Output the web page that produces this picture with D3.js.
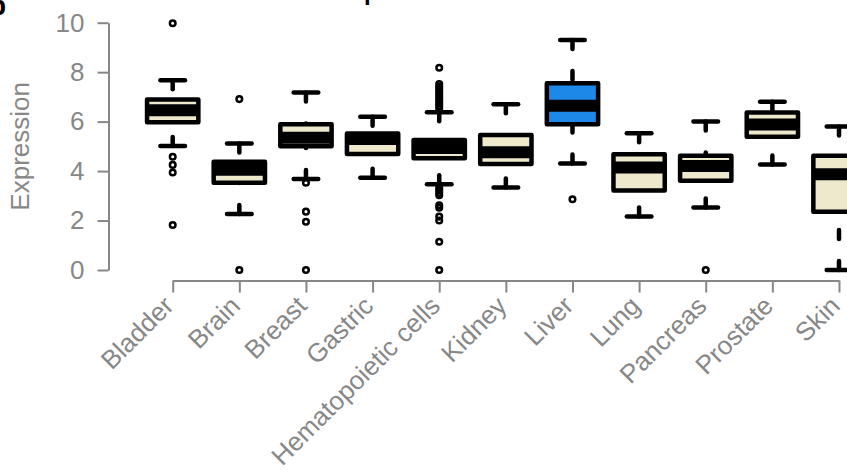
<!DOCTYPE html>
<html>
<head>
<meta charset="utf-8">
<script src="https://cdn.jsdelivr.net/npm/d3@7"></script>
<style>
  html, body { margin: 0; padding: 0; background: #fff; overflow: hidden; }
  svg { display: block; }
  text { font-family: "Liberation Sans", Arial, sans-serif; }
</style>
</head>
<body>
<svg id="chart" width="847" height="475"></svg>
<script>
// ---- data ----
const categories = ["Bladder", "Brain", "Breast", "Gastric", "Hematopoietic cells", "Kidney",
                    "Liver", "Lung", "Pancreas", "Prostate", "Skin"];
const whiskerLow  = [5.01, 2.26, 3.68, 3.73, 3.47, 3.34, 4.31, 2.16, 2.53, 4.27, 0.00];
const q1          = [5.97, 3.53, 5.00, 4.69, 4.52, 4.29, 5.89, 3.21, 3.61, 5.39, 2.36];
const medians     = [6.46, 4.05, 5.35, 5.30, 4.93, 4.76, 6.64, 4.14, 4.21, 5.88, 3.87];
const q3          = [6.89, 4.38, 5.89, 5.52, 5.26, 5.46, 7.55, 4.68, 4.62, 6.37, 4.62];
const whiskerHigh = [7.67, 5.12, 7.18, 6.20, 6.38, 6.70, 9.30, 5.53, 6.00, 6.80, 5.80];
const outliers = [
  [9.98, 4.58, 4.25, 3.94, 1.82],
  [6.91, 0.00],
  [3.53, 2.36, 1.95, 0.00],
  [],
  [8.18, 7.52, 7.42, 7.32, 7.22, 7.12, 7.02, 6.92, 6.82, 6.72, 6.62, 6.52,
   3.32, 3.22, 3.12, 3.02, 2.62, 2.52, 2.16, 2.00, 1.14, 0.00],
  [],
  [2.86],
  [],
  [0.00],
  [],
  []
];
const yTicks = [0, 2, 4, 6, 8, 10];
const highlighted = "Liver";
const yLabel = "Expression";
const titleText = "Tissue expression";
const panelLabel = "b";

// ---- layout ----
const svg = d3.select("#chart");
const gray = "#878787";
const beige = "#EEE8CD";
const blue = "#1E88E8";
const fs = 26;

const x = d3.scalePoint().domain(categories).range([172.7, 839]);
const y = d3.scaleLinear().domain([0, 10]).range([270, 22.7]);
const step = x.step();
const halfBox = step * 0.385;
const halfStaple = 12.3;

// panel label & title (cropped at top in reference)
svg.append("text").attr("x", -11).attr("y", 15)
  .attr("font-size", 28).attr("font-weight", "bold").attr("fill", "#000").text(panelLabel);
const title = svg.append("text").attr("y", 0).attr("font-size", 24)
  .attr("font-weight", "bold").attr("fill", "#000").text(titleText);
{
  const node = title.node();
  const pIdx = titleText.indexOf("p");
  const pre = node.getSubStringLength(0, pIdx);
  title.attr("x", 368 - pre - 4);
}

// y axis
const yAxis = svg.append("g").attr("transform", "translate(108.5,0)")
  .call(d3.axisLeft(y).tickValues(yTicks).tickSize(11).tickPadding(13).tickSizeOuter(0));
yAxis.select(".domain").attr("stroke", gray).attr("stroke-width", 2);
yAxis.selectAll(".tick line").attr("stroke", gray).attr("stroke-width", 2);
yAxis.selectAll(".tick text").attr("fill", gray).attr("font-size", fs)
  .attr("font-family", "'Liberation Sans', Arial, sans-serif");

svg.append("text")
  .attr("transform", "translate(28.5," + y(5) + ") rotate(-90)")
  .attr("text-anchor", "middle").attr("fill", gray).attr("font-size", fs)
  .text(yLabel);

// x axis
const xAxis = svg.append("g").attr("transform", "translate(0,280.5)")
  .call(d3.axisBottom(x).tickSize(12).tickSizeOuter(0).tickFormat(""));
xAxis.select(".domain").attr("stroke", gray).attr("stroke-width", 2);
xAxis.selectAll(".tick line").attr("stroke", gray).attr("stroke-width", 2);

svg.append("g").selectAll("text").data(categories).join("text")
  .attr("transform", d => "translate(" + (x(d) - 4) + ",301) rotate(-45)")
  .attr("text-anchor", "end").attr("dy", "0.35em")
  .attr("fill", gray).attr("font-size", fs)
  .text(d => d);

// boxes
const lw = 4.5;
const g = svg.append("g");
categories.forEach((c, i) => {
  const cx = x(c);
  // whiskers (dashed, drawn from staple toward box)
  g.append("line").attr("x1", cx).attr("x2", cx)
    .attr("y1", y(whiskerHigh[i])).attr("y2", y(q3[i]))
    .attr("stroke", "#000").attr("stroke-width", lw).attr("stroke-linecap", "round")
    .attr("stroke-dasharray", "9,22");
  g.append("line").attr("x1", cx).attr("x2", cx)
    .attr("y1", y(whiskerLow[i])).attr("y2", y(q1[i]))
    .attr("stroke", "#000").attr("stroke-width", lw).attr("stroke-linecap", "round")
    .attr("stroke-dasharray", "9,22");
  // staples
  [whiskerHigh[i], whiskerLow[i]].forEach(v => {
    g.append("line").attr("x1", cx - halfStaple).attr("x2", cx + halfStaple)
      .attr("y1", y(v)).attr("y2", y(v))
      .attr("stroke", "#000").attr("stroke-width", lw).attr("stroke-linecap", "round");
  });
  // box
  g.append("rect").attr("x", cx - halfBox).attr("width", 2 * halfBox)
    .attr("y", y(q3[i])).attr("height", y(q1[i]) - y(q3[i]))
    .attr("fill", c === highlighted ? blue : beige)
    .attr("stroke", "#000").attr("stroke-width", lw).attr("stroke-linejoin", "round");
  // median
  g.append("line").attr("x1", cx - halfBox).attr("x2", cx + halfBox)
    .attr("y1", y(medians[i])).attr("y2", y(medians[i]))
    .attr("stroke", "#000").attr("stroke-width", 12);
  // outliers
  g.selectAll(null).data(outliers[i]).join("circle")
    .attr("cx", cx).attr("cy", v => y(v)).attr("r", 2.8)
    .attr("fill", "none").attr("stroke", "#000").attr("stroke-width", 2.5);
});
</script>
</body>
</html>
